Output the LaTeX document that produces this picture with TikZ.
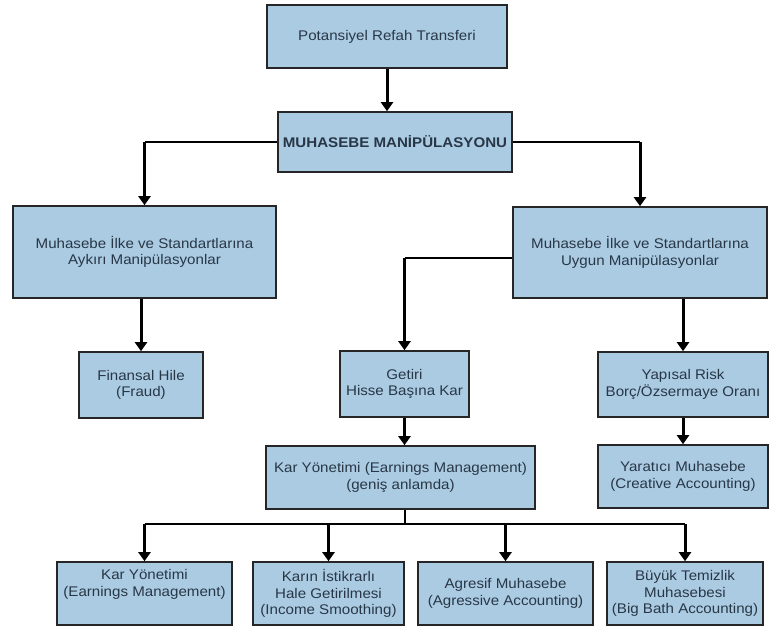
\documentclass[tikz,border=0pt]{standalone}
\usepackage{fontspec}
\setmainfont{Liberation Sans}[FakeStretch=1.08]
\usetikzlibrary{arrows.meta}
\definecolor{boxfill}{RGB}{171,203,227}
\definecolor{boxtext}{RGB}{40,55,70}
\begin{document}
\begin{tikzpicture}[x=1pt,y=-1pt,
  box/.style={draw=black!85, line width=1.6pt, fill=boxfill, text=boxtext, align=center, inner sep=0pt, font=\fontsize{14}{16.5}\selectfont},
  arr/.style={line width=3pt, -{Triangle[width=12pt,length=9pt]}},
  link/.style={line width=2pt}]
\useasboundingbox[fill=white] (0,0) rectangle (770,628);
% boxes
\node[box, minimum width=240pt, minimum height=63pt] (b1) at (387,36.5) {Potansiyel Refah Transferi};
\node[box, minimum width=234pt, minimum height=60pt, font=\bfseries\fontsize{14}{16.5}\selectfont] (b2) at (395,142) {MUHASEBE MANİPÜLASYONU};
\node[box, minimum width=263pt, minimum height=92pt] (b3) at (144.5,252) {Muhasebe İlke ve Standartlarına\\Aykırı Manipülasyonlar};
\node[box, minimum width=254pt, minimum height=91pt] (b4) at (640,252.5) {Muhasebe İlke ve Standartlarına\\Uygun Manipülasyonlar};
\node[box, minimum width=124pt, minimum height=66pt] (b5) at (141,385) {Finansal Hile\\(Fraud)};
\node[box, minimum width=129pt, minimum height=66pt] (b6) at (404.5,384) {Getiri\\Hisse Başına Kar};
\node[box, minimum width=170pt, minimum height=65pt] (b7) at (683,384.5) {Yapısal Risk\\Borç/Özsermaye Oranı};
\node[box, minimum width=269pt, minimum height=63pt] (b8) at (400.5,477.5) {Kar Yönetimi (Earnings Management)\\(geniş anlamda)};
\node[box, minimum width=170pt, minimum height=63pt] (b9) at (683,476.5) {Yaratıcı Muhasebe\\(Creative Accounting)};
\node[box, minimum width=175pt, minimum height=63pt] (c1) at (144.5,593.5) {Kar Yönetimi\\(Earnings Management)\\\strut};
\node[box, minimum width=151pt, minimum height=63pt] (c2) at (328.5,593.5) {Karın İstikrarlı\\Hale Getirilmesi\\(Income Smoothing)};
\node[box, minimum width=175pt, minimum height=63pt] (c3) at (505.5,593.5) {Agresif Muhasebe\\(Agressive Accounting)};
\node[box, minimum width=156pt, minimum height=63pt] (c4) at (685,593.5) {Büyük Temizlik\\Muhasebesi\\(Big Bath Accounting)};
% connectors
\draw[arr] (b1.south) -- (b1.south |- b2.north);
\coordinate (jl) at (b3.north |- b2.west);
\coordinate (jr) at (b4.north |- b2.east);
\draw[link] (b2.west) -- (jl);
\draw[arr] (jl) -- (b3.north);
\draw[link] (b2.east) -- (jr);
\draw[arr] (jr) -- (b4.north);
\draw[arr] (b5.north |- b3.south) -- (b5.north);
\coordinate (jg) at (404.5,258);
\draw[link] (jg -| b4.west) -- (jg);
\draw[arr] (jg) -- (b6.north);
\draw[arr] (b7.north |- b4.south) -- (b7.north);
\draw[arr] (b7.south) -- (b9.north);
\draw[arr] (b6.south) -- (b6.south |- b8.north);
\coordinate (bus) at (404.5,524);
\draw[link] (bus |- b8.south) -- (bus);
\draw[link] (c1.north |- bus) -- (c4.north |- bus);
\draw[arr] (c1.north |- bus) -- (c1.north);
\draw[arr] (c2.north |- bus) -- (c2.north);
\draw[arr] (c3.north |- bus) -- (c3.north);
\draw[arr] (c4.north |- bus) -- (c4.north);
\end{tikzpicture}
\end{document}
